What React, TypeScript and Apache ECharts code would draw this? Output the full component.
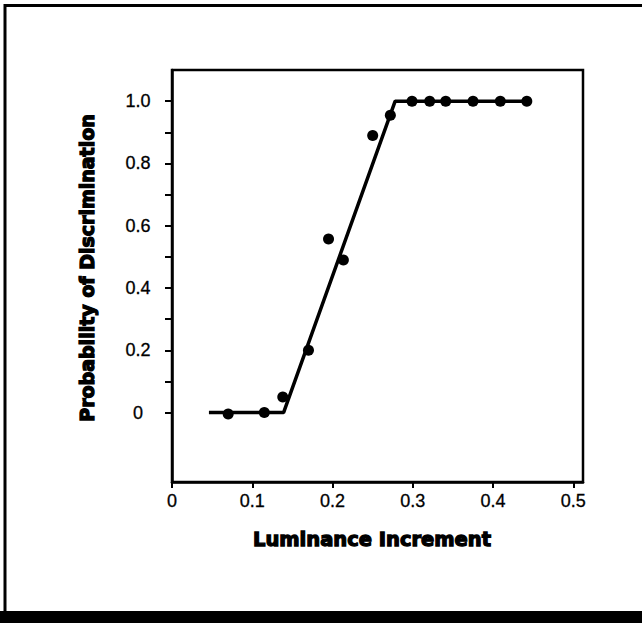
import React, { useEffect, useRef } from "react";
import * as echarts from "echarts";

const observedPoints: [number, number][] = [
  [0.07, -0.005],
  [0.115, 0.0],
  [0.138, 0.05],
  [0.17, 0.2],
  [0.195, 0.557],
  [0.2135, 0.49],
  [0.25, 0.89],
  [0.272, 0.955],
  [0.299, 1.0],
  [0.321, 1.0],
  [0.341, 1.0],
  [0.375, 1.0],
  [0.409, 1.0],
  [0.442, 1.0],
];

const fitLine: [number, number][] = [
  [0.046, 0],
  [0.139, 0],
  [0.278, 1],
  [0.444, 1],
];

const xTicks = [0, 0.1, 0.2, 0.3, 0.4, 0.5];
const yTicks = [0, 0.1, 0.2, 0.3, 0.4, 0.5, 0.6, 0.7, 0.8, 0.9, 1.0];
const yLabels = [0, 0.2, 0.4, 0.6, 0.8, 1.0];

const xTitle = "Luminance Increment";
const yTitle = "Probability of Discrimination";

export default function App() {
  const ref = useRef<HTMLDivElement>(null);
  useEffect(() => {
    if (!ref.current) return;
    const chart = echarts.init(ref.current, null, { renderer: "svg" });
    const W = 642;
    const H = 623;
    const tickLabel = {
      formatter: (v: number) => (v === 0 ? "0" : v.toFixed(1)),
      color: "#000",
      fontFamily: "Liberation Sans",
      fontSize: 18,
      textBorderColor: "#000",
      textBorderWidth: 0.3,
    };
    chart.setOption({
      animation: false,
      backgroundColor: "#ffffff",
      grid: {
        left: 172,
        right: W - 583,
        top: 70,
        bottom: H - 482,
        show: true,
        borderColor: "#000",
        borderWidth: 2.5,
        backgroundColor: "transparent",
      },
      xAxis: {
        type: "value",
        min: 0,
        max: 0.512,
        splitLine: { show: false },
        axisLine: { show: true, onZero: false, lineStyle: { color: "#000", width: 2.5 } },
        axisTick: {
          show: true,
          customValues: xTicks,
          length: 6,
          lineStyle: { color: "#000", width: 2 },
        },
        axisLabel: {
          ...tickLabel,
          customValues: xTicks,
          margin: 10,
        },
      },
      yAxis: {
        type: "value",
        min: -0.223,
        max: 1.1,
        splitLine: { show: false },
        axisLine: { show: true, onZero: false, lineStyle: { color: "#000", width: 2.5 } },
        axisTick: {
          show: true,
          customValues: yTicks,
          length: 7,
          lineStyle: { color: "#000", width: 2 },
        },
        axisLabel: {
          ...tickLabel,
          customValues: yLabels,
          align: "center",
          margin: 34,
        },
      },
      graphic: [
        {
          type: "line",
          shape: { x1: 4, y1: 5.5, x2: W, y2: 5.5 },
          style: { stroke: "#000", lineWidth: 3 },
        },
        {
          type: "line",
          shape: { x1: 5, y1: 4, x2: 5, y2: 612 },
          style: { stroke: "#000", lineWidth: 3 },
        },
        {
          type: "rect",
          shape: { x: 0, y: 611, width: W, height: H - 611 },
          style: { fill: "#000" },
        },
        {
          type: "text",
          x: 372,
          y: 539,
          style: {
            text: xTitle,
            font: "bold 19.5px 'DejaVu Sans'",
            fill: "#000",
            stroke: "#000",
            lineWidth: 1.3,
            align: "center",
            verticalAlign: "middle",
          },
        },
        {
          type: "text",
          x: 87,
          y: 268,
          rotation: Math.PI / 2,
          style: {
            text: yTitle,
            font: "bold 19px 'DejaVu Sans'",
            fill: "#000",
            stroke: "#000",
            lineWidth: 1.3,
            align: "center",
            verticalAlign: "middle",
          },
        },
      ],
      series: [
        {
          type: "line",
          data: fitLine,
          showSymbol: false,
          symbol: "none",
          lineStyle: { color: "#000", width: 3.5 },
          z: 2,
        },
        {
          type: "scatter",
          data: observedPoints,
          symbol: "circle",
          symbolSize: 11,
          itemStyle: { color: "#000", opacity: 1 },
          z: 3,
        },
      ],
    });
    return () => chart.dispose();
  }, []);
  return (
    <div
      ref={ref}
      style={{ position: "absolute", left: 0, top: 0, width: 642, height: 623 }}
    />
  );
}
